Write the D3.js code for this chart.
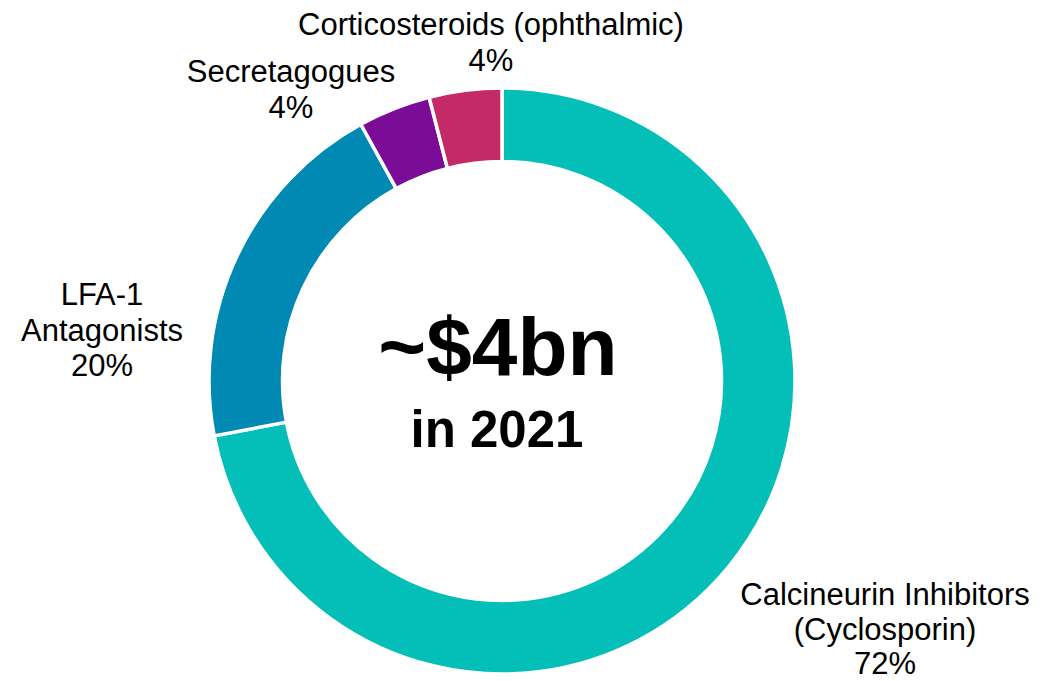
<!DOCTYPE html>
<html>
<head>
<meta charset="utf-8">
<script src="https://cdn.jsdelivr.net/npm/d3@7"></script>
<style>
  html, body { margin: 0; padding: 0; background: #ffffff; }
  svg { display: block; }
  text { font-family: "Liberation Sans", Arial, sans-serif; fill: #000; }
</style>
</head>
<body>
<svg id="chart" width="1040" height="681"></svg>
<script>
// Market share by drug class
const categories = [
  "Calcineurin Inhibitors (Cyclosporin)",
  "LFA-1 Antagonists",
  "Secretagogues",
  "Corticosteroids (ophthalmic)"
];
const shares = [72, 20, 4, 4];
const labelLines = [
  ["Calcineurin Inhibitors", "(Cyclosporin)"],
  ["LFA-1", "Antagonists"],
  ["Secretagogues"],
  ["Corticosteroids (ophthalmic)"]
];
const colors = ["#03BFB7", "#008AB3", "#7B0C98", "#C32A67"];
const centerTitle = "~$4bn";
const centerSubtitle = "in 2021";

// Layout
const width = 1040, height = 681;
const cx = 502, cy = 381;
const outerR = 293, innerR = 219.5;
// first-baseline anchor and line spacing of each category label
const labelAnchors = [
  { x: 885, y: 605, lh: 34.5 },
  { x: 102, y: 305, lh: 35.5 },
  { x: 291, y: 82, lh: 35.5 },
  { x: 491, y: 35, lh: 35.5 }
];

const svg = d3.select("#chart");
const g = svg.append("g").attr("transform", `translate(${cx},${cy})`);

const data = categories.map((c, i) => ({ name: c, value: shares[i], color: colors[i], lines: labelLines[i], anchor: labelAnchors[i] }));

const pie = d3.pie().sort(null).value(d => d.value);
const arc = d3.arc().innerRadius(innerR).outerRadius(outerR);

g.selectAll("path.slice")
  .data(pie(data))
  .join("path")
  .attr("class", "slice")
  .attr("d", arc)
  .attr("fill", d => d.data.color)
  .attr("stroke", "#ffffff")
  .attr("stroke-width", 3.5)
  .attr("stroke-linejoin", "miter");

// Category labels with percentage on last line
const labels = svg.selectAll("text.label")
  .data(data)
  .join("text")
  .attr("class", "label")
  .attr("text-anchor", "middle")
  .style("font-size", "31px");

labels.each(function(d) {
  const t = d3.select(this);
  const lines = d.lines.concat([d.value + "%"]);
  lines.forEach((ln, i) => {
    t.append("tspan")
      .attr("x", d.anchor.x)
      .attr("y", d.anchor.y + i * d.anchor.lh)
      .text(ln);
  });
});

// Center total
svg.append("text")
  .attr("x", cx - 4)
  .attr("y", 375)
  .attr("text-anchor", "middle")
  .style("font-size", "82px")
  .style("font-weight", "bold")
  .text(centerTitle);

svg.append("text")
  .attr("x", cx - 5)
  .attr("y", 447)
  .attr("text-anchor", "middle")
  .style("font-size", "51px")
  .style("font-weight", "bold")
  .text(centerSubtitle);
</script>
</body>
</html>
